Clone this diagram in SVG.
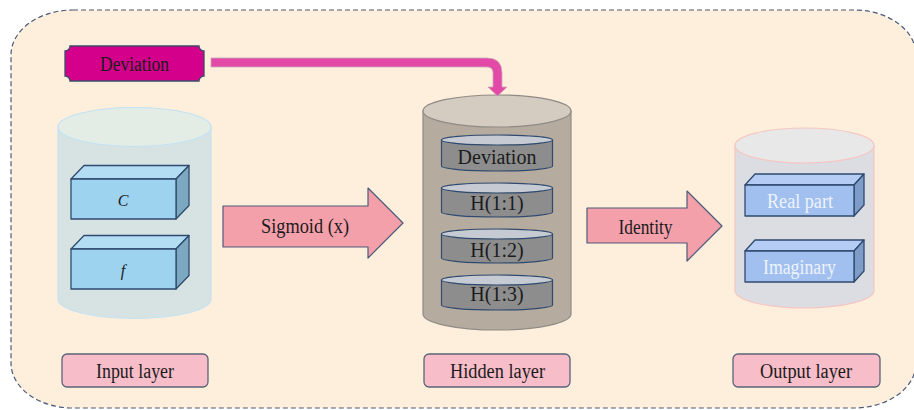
<svg xmlns="http://www.w3.org/2000/svg" width="914" height="410" viewBox="0 0 914 410">
  <defs>
    <style>
      text { font-family: "Liberation Serif", "Times New Roman", serif; fill: #1b1b1b; text-anchor: middle; dominant-baseline: central; }
      .box-edge { stroke: #2f4a6e; stroke-width: 1.3; stroke-linejoin: round; }
      .flow { fill: #f4a0ab; stroke: #4c5a7a; stroke-width: 1.2; stroke-linejoin: round; }
      .tag rect { fill: #f7bdc8; stroke: #5a6478; stroke-width: 1.3; }
      .disk-body { fill: #8d8d8e; stroke: #2f4a6e; stroke-width: 1.2; }
      .disk-top { fill: #c6cad2; stroke: #2f4a6e; stroke-width: 1.2; }
    </style>
  </defs>

  <!-- background panel -->
  <rect x="11" y="10" width="905" height="398" rx="62" ry="45" fill="#feefdd" stroke="#4a5a78" stroke-width="1.2" stroke-dasharray="5 3"/>

  <!-- input layer cylinder -->
  <g id="input-cylinder">
    <path d="M58,127 V299 A76.5 19.5 0 0 0 211,299 V127 Z" fill="#d7e3e3" stroke="#c3e2f2" stroke-width="1.2"/>
    <ellipse cx="134.5" cy="127" rx="76.5" ry="19.5" fill="#e4ece6" stroke="#c3e2f2" stroke-width="1.2"/>
  </g>

  <g id="box-c">
    <polygon class="box-edge" points="71,179 84,165.5 189,165.5 176,179" fill="#b3ddf3"/>
    <polygon class="box-edge" points="176,179 189,165.5 189,205.5 176,219" fill="#7ca9c1"/>
    <rect class="box-edge" x="71" y="179" width="105" height="40" fill="#9dd3ee"/>
    <text x="123" y="200" font-size="16" font-style="italic">C</text>
  </g>

  <g id="box-f">
    <polygon class="box-edge" points="71,249 84,235.5 189,235.5 176,249" fill="#b3ddf3"/>
    <polygon class="box-edge" points="176,249 189,235.5 189,275.5 176,289" fill="#7ca9c1"/>
    <rect class="box-edge" x="71" y="249" width="105" height="40" fill="#9dd3ee"/>
    <text x="123" y="270" font-size="16" font-style="italic">f</text>
  </g>

  <!-- hidden layer cylinder -->
  <g id="hidden-cylinder">
    <path d="M423,111 V314 A74 16 0 0 0 571,314 V111 Z" fill="#b5ab9f" stroke="#8f8b86" stroke-width="1.2"/>
    <ellipse cx="497" cy="111" rx="74" ry="16" fill="#d4cbc1" stroke="#8f8b86" stroke-width="1.2"/>
  </g>

  <g id="disk-deviation">
    <path class="disk-body" d="M441.5,140 V166 A55.5 5 0 0 0 552.5,166 V140 Z"/>
    <ellipse class="disk-top" cx="497" cy="140" rx="55.5" ry="5"/>
    <text x="497" y="157" font-size="20">Deviation</text>
  </g>
  <g id="disk-h11">
    <path class="disk-body" d="M441.5,188 V212 A55.5 5 0 0 0 552.5,212 V188 Z"/>
    <ellipse class="disk-top" cx="497" cy="188" rx="55.5" ry="5"/>
    <text x="497" y="203" font-size="20">H(1:1)</text>
  </g>
  <g id="disk-h12">
    <path class="disk-body" d="M441.5,234 V258 A55.5 5 0 0 0 552.5,258 V234 Z"/>
    <ellipse class="disk-top" cx="497" cy="234" rx="55.5" ry="5"/>
    <text x="497" y="250" font-size="20">H(1:2)</text>
  </g>
  <g id="disk-h13">
    <path class="disk-body" d="M441.5,280 V305 A55.5 5 0 0 0 552.5,305 V280 Z"/>
    <ellipse class="disk-top" cx="497" cy="280" rx="55.5" ry="5"/>
    <text x="497" y="294" font-size="20">H(1:3)</text>
  </g>

  <!-- output layer cylinder -->
  <g id="output-cylinder">
    <path d="M735,145.5 V290.5 A69.5 17.5 0 0 0 874,290.5 V145.5 Z" fill="#dcdde3" stroke="#f5c6c2" stroke-width="1.2"/>
    <ellipse cx="804.5" cy="145.5" rx="69.5" ry="17.5" fill="#e9e8e8" stroke="#f5c6c2" stroke-width="1.2"/>
  </g>

  <g id="box-real">
    <polygon class="box-edge" points="745,185 755,174 864,174 854,185" fill="#b5cdf4"/>
    <polygon class="box-edge" points="854,185 864,174 864,205 854,216" fill="#7f9cc8"/>
    <rect class="box-edge" x="745" y="185" width="109" height="31" fill="#a1c0f0"/>
    <text x="800" y="201" font-size="20" textLength="66" lengthAdjust="spacingAndGlyphs" style="fill:#eef3fb">Real part</text>
  </g>

  <g id="box-imaginary">
    <polygon class="box-edge" points="745,251 755,240 864,240 854,251" fill="#b5cdf4"/>
    <polygon class="box-edge" points="854,251 864,240 864,271 854,282" fill="#7f9cc8"/>
    <rect class="box-edge" x="745" y="251" width="109" height="31" fill="#a1c0f0"/>
    <text x="799.5" y="267" font-size="20" textLength="73" lengthAdjust="spacingAndGlyphs" style="fill:#eef3fb">Imaginary</text>
  </g>

  <!-- deviation input badge -->
  <g id="deviation-badge">
    <path d="M70,46 H199 A5 5 0 0 0 204,51 V76 A5 5 0 0 0 199,81 H70 A5 5 0 0 0 65,76 V51 A5 5 0 0 0 70,46 Z" fill="#d4008b" stroke="#3d4a6a" stroke-width="1.3"/>
    <text x="134.5" y="64" font-size="20" textLength="69" lengthAdjust="spacingAndGlyphs">Deviation</text>
  </g>

  <!-- connectors -->
  <g id="connectors">
    <path d="M211,58 H487 Q502,58 502,73 V87 H507 L497.5,96 L488,87 H493 V73 Q493,67 487,67 H211 Z" fill="#e34aa8" stroke="#c9a9b8" stroke-width="0.8" stroke-linejoin="round"/>
    <g id="sigmoid-arrow">
      <polygon class="flow" points="223,206 368,206 368,188 403,223 368,258 368,247 223,247"/>
      <text x="305" y="226" font-size="20" textLength="88" lengthAdjust="spacingAndGlyphs">Sigmoid (x)</text>
    </g>
    <g id="identity-arrow">
      <polygon class="flow" points="587,208 687,208 687,191 722,226 687,261 687,243 587,243"/>
      <text x="645.5" y="227" font-size="20" textLength="54" lengthAdjust="spacingAndGlyphs">Identity</text>
    </g>
  </g>

  <!-- layer captions -->
  <g id="label-input" class="tag">
    <rect x="62" y="354" width="146" height="33" rx="5"/>
    <text x="135" y="371" font-size="20" textLength="78" lengthAdjust="spacingAndGlyphs">Input layer</text>
  </g>
  <g id="label-hidden" class="tag">
    <rect x="424" y="354" width="146" height="33" rx="5"/>
    <text x="497.5" y="371" font-size="20" textLength="95" lengthAdjust="spacingAndGlyphs">Hidden layer</text>
  </g>
  <g id="label-output" class="tag">
    <rect x="733" y="354" width="147" height="33" rx="5"/>
    <text x="806" y="371" font-size="20" textLength="92" lengthAdjust="spacingAndGlyphs">Output layer</text>
  </g>
</svg>
